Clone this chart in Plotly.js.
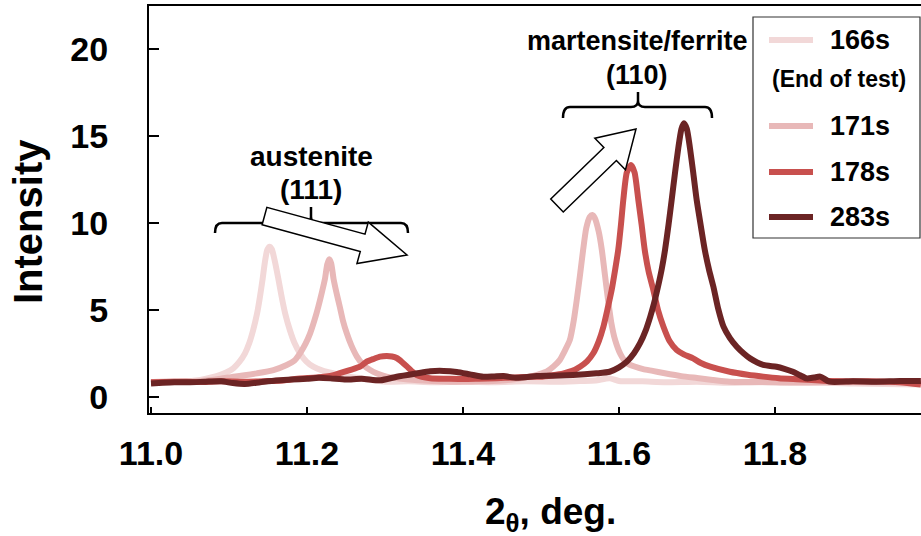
<!DOCTYPE html>
<html>
<head>
<meta charset="utf-8">
<script src="https://cdn.plot.ly/plotly-3.0.1.min.js"></script>
<style>
  html, body { margin: 0; padding: 0; background: #fff; }
  #chart { width: 921px; height: 536px; }
</style>
</head>
<body>
<div id="chart"></div>
<script>
// Diffraction profiles around the austenite (111) and martensite/ferrite (110) peaks
const seriesNames = ['166s', '171s', '178s', '283s'];
const seriesColors = ['#f2d8d8', '#e8b8b8', '#c8504e', '#6b2424'];

const x166 = [11.000, 11.020, 11.040, 11.063, 11.080, 11.088, 11.097, 11.1055, 11.113, 11.1205, 11.126, 11.131, 11.136, 11.1397, 11.143, 11.146, 11.149, 11.152, 11.155, 11.159, 11.163, 11.1675, 11.172, 11.178, 11.184, 11.191, 11.199, 11.208, 11.220, 11.234, 11.250, 11.268, 11.302, 11.330, 11.360, 11.400, 11.440, 11.480, 11.520, 11.550, 11.570, 11.588, 11.600, 11.630, 11.660, 11.700, 11.740, 11.780, 11.820, 11.860, 11.900, 11.940, 11.987];
const y166 = [0.85, 0.90, 0.88, 0.98, 1.15, 1.26, 1.42, 1.65, 2.00, 2.51, 3.10, 3.85, 4.80, 5.76, 6.75, 7.75, 8.45, 8.64, 8.48, 7.75, 6.85, 5.76, 4.80, 3.85, 3.10, 2.51, 2.05, 1.74, 1.52, 1.36, 1.20, 1.08, 0.88, 0.90, 0.85, 0.88, 0.85, 0.90, 0.88, 0.92, 0.95, 1.07, 0.92, 0.90, 0.85, 0.88, 0.82, 0.85, 0.80, 0.82, 0.78, 0.75, 0.72];

const x171 = [11.000, 11.030, 11.060, 11.085, 11.1055, 11.120, 11.1355, 11.157, 11.174, 11.184, 11.191, 11.198, 11.204, 11.2095, 11.2145, 11.219, 11.223, 11.226, 11.2286, 11.231, 11.234, 11.238, 11.242, 11.246, 11.251, 11.257, 11.264, 11.272, 11.281, 11.290, 11.302, 11.330, 11.360, 11.390, 11.420, 11.450, 11.470, 11.486, 11.497, 11.507, 11.516, 11.524, 11.531, 11.537, 11.542, 11.5458, 11.550, 11.554, 11.558, 11.5625, 11.5658, 11.569, 11.574, 11.578, 11.582, 11.586, 11.590, 11.595, 11.602, 11.610, 11.620, 11.631, 11.643, 11.657, 11.680, 11.700, 11.720, 11.742, 11.780, 11.820, 11.860, 11.900, 11.940, 11.987];
const y171 = [0.85, 0.88, 0.90, 1.02, 1.17, 1.25, 1.36, 1.55, 1.84, 2.10, 2.51, 3.05, 3.66, 4.40, 5.19, 6.00, 6.78, 7.62, 7.91, 7.68, 6.80, 5.95, 5.19, 4.40, 3.66, 2.95, 2.32, 1.85, 1.55, 1.35, 1.17, 1.00, 0.92, 0.88, 0.90, 0.95, 1.05, 1.17, 1.30, 1.45, 1.75, 2.12, 2.70, 3.28, 4.40, 5.57, 7.00, 8.45, 9.70, 10.35, 10.46, 10.28, 9.50, 8.45, 7.00, 5.57, 4.30, 3.28, 2.45, 1.95, 1.75, 1.60, 1.50, 1.38, 1.20, 1.09, 0.98, 0.88, 0.86, 0.85, 0.84, 0.86, 0.84, 0.82];

const x178 = [11.000, 11.030, 11.060, 11.090, 11.120, 11.150, 11.170, 11.191, 11.212, 11.234, 11.255, 11.268, 11.2765, 11.286, 11.2936, 11.302, 11.309, 11.315, 11.322, 11.328, 11.334, 11.3406, 11.358, 11.380, 11.400, 11.420, 11.443, 11.465, 11.486, 11.499, 11.515, 11.529, 11.540, 11.550, 11.559, 11.567, 11.574, 11.580, 11.5855, 11.5906, 11.595, 11.599, 11.6025, 11.6055, 11.610, 11.6154, 11.620, 11.6248, 11.629, 11.633, 11.638, 11.644, 11.650, 11.657, 11.665, 11.674, 11.683, 11.695, 11.705, 11.717, 11.742, 11.765, 11.785, 11.805, 11.828, 11.870, 11.920, 11.960, 11.987];
const y178 = [0.85, 0.88, 0.86, 0.90, 0.88, 0.92, 0.95, 1.07, 1.12, 1.26, 1.55, 1.74, 2.03, 2.20, 2.32, 2.36, 2.33, 2.24, 2.00, 1.76, 1.50, 1.26, 1.08, 1.05, 1.03, 1.05, 1.08, 1.12, 1.17, 1.16, 1.25, 1.36, 1.50, 1.74, 2.05, 2.51, 3.20, 4.04, 5.10, 6.15, 7.30, 8.45, 9.90, 11.32, 12.90, 13.33, 12.90, 11.32, 9.90, 8.45, 7.20, 6.15, 5.00, 4.04, 3.20, 2.70, 2.45, 2.22, 1.95, 1.74, 1.45, 1.28, 1.17, 1.08, 1.02, 0.92, 0.90, 0.85, 0.72];

const x283 = [11.000, 11.015, 11.030, 11.050, 11.070, 11.090, 11.105, 11.120, 11.140, 11.160, 11.180, 11.200, 11.215, 11.230, 11.250, 11.270, 11.294, 11.315, 11.340, 11.358, 11.375, 11.392, 11.409, 11.426, 11.440, 11.452, 11.469, 11.4945, 11.511, 11.541, 11.571, 11.588, 11.600, 11.610, 11.619, 11.627, 11.634, 11.640, 11.645, 11.650, 11.655, 11.659, 11.6635, 11.6675, 11.672, 11.676, 11.680, 11.6833, 11.687, 11.691, 11.695, 11.6996, 11.705, 11.710, 11.7155, 11.721, 11.727, 11.734, 11.742, 11.751, 11.760, 11.768, 11.785, 11.802, 11.812, 11.823, 11.832, 11.8406, 11.850, 11.858, 11.870, 11.900, 11.930, 11.960, 11.987];
const y283 = [0.78, 0.82, 0.85, 0.85, 0.88, 0.90, 0.80, 0.75, 0.85, 0.95, 1.00, 1.05, 1.10, 1.07, 1.00, 1.05, 0.96, 1.16, 1.35, 1.48, 1.50, 1.44, 1.30, 1.16, 1.18, 1.20, 1.10, 1.20, 1.22, 1.26, 1.36, 1.45, 1.70, 2.03, 2.50, 3.09, 3.80, 4.61, 5.40, 6.34, 7.40, 8.45, 9.90, 11.32, 12.95, 14.30, 15.40, 15.73, 15.40, 14.30, 12.95, 11.32, 9.80, 8.45, 7.30, 6.34, 5.10, 4.04, 3.40, 2.89, 2.50, 2.22, 1.84, 1.74, 1.62, 1.45, 1.25, 1.07, 1.12, 1.17, 0.88, 0.90, 0.88, 0.92, 0.92];

const xTickVals = [11.0, 11.2, 11.4, 11.6, 11.8];
const xTickText = ['11.0', '11.2', '11.4', '11.6', '11.8'];
const yTickVals = [0, 5, 10, 15, 20];
const yTickText = ['0', '5', '10', '15', '20'];

const xs = [x166, x171, x178, x283];
const ys = [y166, y171, y178, y283];

const FONT = 'Liberation Sans, Arial, Helvetica, sans-serif';

// plot-area geometry in pixels, used to place decorations in paper units
const W = 921, H = 536, ML = 149, MR = 0, MT = 6, MB = 123;
const PW = W - ML - MR, PH = H - MT - MB;
const px = v => (v - ML) / PW;
const py = v => (H - MB - v) / PH;
const P = (a, b) => px(a).toFixed(5) + ',' + py(b).toFixed(5);

const traces = xs.map((xv, i) => ({
  type: 'scatter',
  mode: 'lines',
  x: xv,
  y: ys[i],
  name: seriesNames[i],
  line: { color: seriesColors[i], width: 6, shape: 'spline', smoothing: 0.6 },
  showlegend: false,
  hoverinfo: 'skip'
}));

// curly bracket over a peak group
function bracket(x0, x1, xc, yLine, yEnd, yTop) {
  const r = 7;
  return 'M ' + P(x0, yEnd) + ' Q ' + P(x0, yLine) + ' ' + P(x0 + r, yLine) +
    ' L ' + P(xc - r, yLine) + ' Q ' + P(xc, yLine) + ' ' + P(xc, yLine - r + 1) +
    ' L ' + P(xc, yTop) +
    ' M ' + P(xc, yLine - r + 1) + ' Q ' + P(xc, yLine) + ' ' + P(xc + r, yLine) +
    ' L ' + P(x1 - r, yLine) + ' Q ' + P(x1, yLine) + ' ' + P(x1, yEnd);
}

// hollow block arrow from tail centre to tip
function blockArrow(tx, ty, hx, hy, shaftW, headW, headL) {
  const dx = hx - tx, dy = hy - ty;
  const len = Math.hypot(dx, dy);
  const ux = dx / len, uy = dy / len;
  const nx = -uy, ny = ux;
  const bx = hx - ux * headL, by = hy - uy * headL;
  const pts = [
    [tx + nx * shaftW / 2, ty + ny * shaftW / 2],
    [bx + nx * shaftW / 2, by + ny * shaftW / 2],
    [bx + nx * headW / 2, by + ny * headW / 2],
    [hx, hy],
    [bx - nx * headW / 2, by - ny * headW / 2],
    [bx - nx * shaftW / 2, by - ny * shaftW / 2],
    [tx - nx * shaftW / 2, ty - ny * shaftW / 2]
  ];
  return 'M ' + pts.map(p => P(p[0], p[1])).join(' L ') + ' Z';
}

const shapes = [
  { type: 'path', xref: 'paper', yref: 'paper', path: bracket(215, 408, 311, 223, 233, 207),
    line: { color: '#000', width: 2.5 } },
  { type: 'path', xref: 'paper', yref: 'paper', path: bracket(563, 712, 638, 107, 118, 92),
    line: { color: '#000', width: 2.5 } },
  { type: 'path', xref: 'paper', yref: 'paper', path: blockArrow(264.5, 216, 407, 255, 18, 43, 46),
    fillcolor: '#fff', line: { color: '#000', width: 1.5 } },
  { type: 'path', xref: 'paper', yref: 'paper', path: blockArrow(557, 205.5, 636, 129, 18, 44, 36),
    fillcolor: '#fff', line: { color: '#000', width: 1.5 } },
  // legend frame
  { type: 'rect', xref: 'paper', yref: 'paper', x0: px(753), x1: px(920), y0: py(238), y1: py(17),
    fillcolor: '#fff', line: { color: '#333', width: 1.2 } }
];

const legendRows = [40, 126, 172, 217];
const annotations = [];
seriesNames.forEach((n, i) => {
  shapes.push({ type: 'line', xref: 'paper', yref: 'paper',
    x0: px(769), x1: px(813), y0: py(legendRows[i]), y1: py(legendRows[i]),
    line: { color: seriesColors[i], width: 6 } });
  annotations.push({ xref: 'paper', yref: 'paper', x: px(828), y: py(legendRows[i]),
    xanchor: 'left', yanchor: 'middle', showarrow: false, text: n,
    font: { family: FONT, size: 27, color: '#000', weight: 'bold' } });
});

const label = (t, x, y, size, extra) => Object.assign({
  xref: 'paper', yref: 'paper', x: px(x), y: py(y), xanchor: 'center', yanchor: 'middle',
  showarrow: false, text: t, font: { family: FONT, size: size, color: '#000', weight: 'bold' }
}, extra || {});

annotations.push(
  label('(End of test)', 839, 79, 23),
  label('austenite', 311, 156, 28),
  label('(111)', 311, 190, 28),
  label('martensite/ferrite', 637, 41, 27),
  label('(110)', 637, 75, 27),
  label('Intensity', 28, 222, 40, { textangle: -90 }),
  label('2<sub>θ</sub>, deg.', 550, 514, 37)
);

const tickFont = { family: FONT, size: 34, color: '#000', weight: 'bold' };

const layout = {
  width: W, height: H,
  margin: { l: ML, r: MR, t: MT, b: MB, pad: 0 },
  paper_bgcolor: '#fff', plot_bgcolor: '#fff',
  showlegend: false,
  xaxis: {
    range: [10.99744, 11.98718],
    tickvals: xTickVals, ticktext: xTickText,
    ticks: 'inside', ticklen: 6, tickwidth: 1.5, tickcolor: '#000',
    showline: true, linecolor: '#000', linewidth: 2, mirror: true,
    showgrid: false, zeroline: false,
    tickfont: tickFont, ticklabelstandoff: 9
  },
  yaxis: {
    range: [-0.92, 22.47],
    tickvals: yTickVals, ticktext: yTickText,
    ticks: 'inside', ticklen: 10, tickwidth: 1.5, tickcolor: '#000',
    showline: true, linecolor: '#000', linewidth: 2,
    showgrid: false, zeroline: false,
    tickfont: tickFont, ticklabelstandoff: 32
  },
  shapes: shapes,
  annotations: annotations
};

Plotly.newPlot('chart', traces, layout, { staticPlot: true, displayModeBar: false });
</script>
</body>
</html>
